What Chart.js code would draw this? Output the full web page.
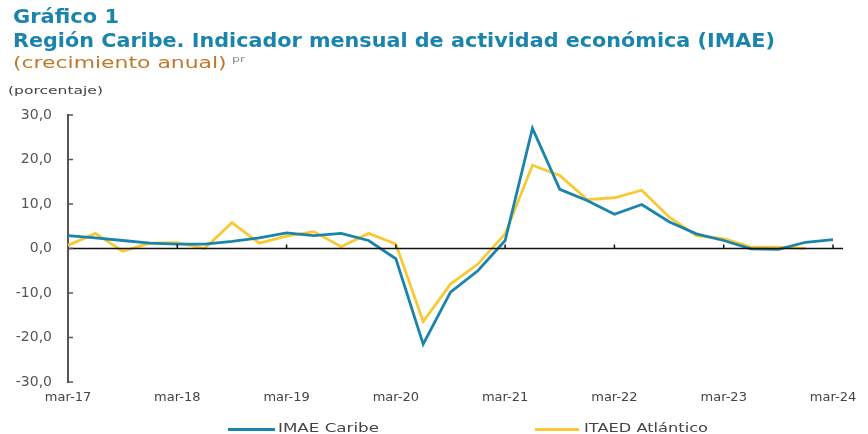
<!DOCTYPE html>
<html>
<head>
<meta charset="utf-8">
<script src="https://cdn.jsdelivr.net/npm/chart.js@4.4.0/dist/chart.umd.min.js"></script>
<style>
  body { margin: 0; background: #fff; }
  #wrap { position: relative; width: 868px; height: 434px; overflow: hidden; font-family: "DejaVu Sans", sans-serif; }
  #c { position: absolute; left: 0; top: 0; }
  .t { position: absolute; left: 13px; white-space: nowrap; transform-origin: left top; }
  #t1, #t2 { color: #1b84ad; font-weight: bold; font-size: 19px; }
  #t1 { top: 5px; }
  #t2 { top: 29px; }
  #t3 { top: 53px; color: #c0782c; font-size: 16px; }
  #t3 sup { color: #888; font-size: 9px; vertical-align: 6px; margin-left: 4px; }
  #t4 { top: 84px; left: 8px; color: #444; font-size: 11px; }
  .leg { position: absolute; top: 420px; font-size: 13px; color: #444; white-space: nowrap; }
  .leg span.sw { position: absolute; top: 8px; height: 3px; }
  .leg span.tx { position: absolute; top: 0; transform-origin: left top; }
</style>
</head>
<body>
<div id="wrap">
  <canvas id="c" width="868" height="434"></canvas>
  <div class="t" id="t1">Gráfico 1</div>
  <div class="t" id="t2">Región Caribe. Indicador mensual de actividad económica (IMAE)</div>
  <div class="t" id="t3">(crecimiento anual)<sup>pr</sup></div>
  <div class="t" id="t4">(porcentaje)</div>
  <div id="legend"></div>
</div>
<script>
var labels = ["mar-17","jun-17","sep-17","dic-17","mar-18","jun-18","sep-18","dic-18",
  "mar-19","jun-19","sep-19","dic-19","mar-20","jun-20","sep-20","dic-20",
  "mar-21","jun-21","sep-21","dic-21","mar-22","jun-22","sep-22","dic-22",
  "mar-23","jun-23","sep-23","dic-23","mar-24"];
var imaeCaribe = [2.9, 2.4, 1.8, 1.2, 1.0, 1.0, 1.6, 2.4,
  3.5, 2.9, 3.4, 1.8, -2.3, -21.5, -9.8, -5.0,
  1.8, 27.0, 13.3, 10.8, 7.7, 9.9, 6.0, 3.3,
  1.8, -0.1, -0.2, 1.4, 2.0];
var itaedAtlantico = [0.7, 3.4, -0.6, 1.2, 1.3, 0.0, 5.8, 1.2,
  2.8, 3.8, 0.4, 3.4, 1.0, -16.4, -8.0, -3.5,
  3.3, 18.7, 16.4, 11.0, 11.4, 13.1, 7.1, 2.9,
  2.2, 0.3, 0.3, 0.0];
var yTicks = [-30, -20, -10, 0, 10, 20, 30];

// stretch a text line to the width it has in the picture
function fit(el, w) {
  var r = el.getBoundingClientRect().width;
  el.style.transform = 'scaleX(' + (w / r) + ')';
}
fit(document.getElementById('t1'), 106);
fit(document.getElementById('t2'), 762);
fit(document.getElementById('t3'), 232);
fit(document.getElementById('t4'), 95);

var marks = {
  id: 'marks',
  afterDatasetsDraw: function (chart) {
    var ctx = chart.ctx, x = chart.scales.x, y = chart.scales.y;
    var a = chart.chartArea;
    ctx.save();
    // eje en cero
    var y0 = y.getPixelForValue(0);
    ctx.strokeStyle = '#111';
    ctx.lineWidth = 1.5;
    ctx.beginPath();
    ctx.moveTo(a.left, y0);
    ctx.lineTo(a.right + 10, y0);
    ctx.stroke();
    for (var i = 4; i < labels.length; i += 4) {
      var px = x.getPixelForValue(i);
      ctx.beginPath();
      ctx.moveTo(px, y0);
      ctx.lineTo(px, y0 - 4);
      ctx.stroke();
    }
    // marcas del eje y
    ctx.strokeStyle = '#555';
    ctx.lineWidth = 1.5;
    yTicks.forEach(function (v) {
      var py = y.getPixelForValue(v);
      ctx.beginPath();
      ctx.moveTo(a.left, py);
      ctx.lineTo(a.left + 5, py);
      ctx.stroke();
    });
    ctx.restore();
  }
};

var datasets = [
  { label: 'IMAE Caribe', data: imaeCaribe, borderColor: '#1b84ad', backgroundColor: '#1b84ad', borderWidth: 2.8 },
  { label: 'ITAED Atlántico', data: itaedAtlantico, borderColor: '#f8c935', backgroundColor: '#f8c935', borderWidth: 2.8 }
];

var chart = new Chart(document.getElementById('c'), {
  type: 'line',
  data: { labels: labels, datasets: datasets },
  options: {
    responsive: false,
    animation: false,
    layout: { padding: { left: 0, top: 115, right: 35, bottom: 0 } },
    elements: { point: { radius: 0 }, line: { tension: 0 } },
    plugins: { legend: { display: false }, tooltip: { enabled: false } },
    scales: {
      x: {
        offset: false,
        grid: { display: false, drawTicks: false },
        border: { display: false },
        afterFit: function (s) { s.height = 52; },
        ticks: {
          autoSkip: false, maxRotation: 0, padding: 8,
          color: '#444', font: { family: 'DejaVu Sans', size: 13 },
          callback: function (v, i) { return i % 4 === 0 ? labels[i] : ''; }
        }
      },
      y: {
        min: -30, max: 30,
        grid: { display: false, drawTicks: false },
        border: { display: true, color: '#555', width: 2 },
        afterFit: function (s) { s.width = 68; },
        afterBuildTicks: function (s) { s.ticks = yTicks.map(function (v) { return { value: v }; }); },
        ticks: {
          padding: 16, color: '#555', font: { family: 'DejaVu Sans', size: 14 },
          callback: function (v) { return v.toFixed(1).replace('.', ','); }
        }
      }
    }
  },
  plugins: [marks]
});

// leyenda
var legPos = [{ sw: 228, swW: 47, tx: 278, txW: 101 }, { sw: 535, swW: 44, tx: 584, txW: 124 }];
var leg = document.getElementById('legend');
datasets.forEach(function (d, i) {
  var p = legPos[i];
  var item = document.createElement('div');
  item.className = 'leg';
  item.style.left = '0px';
  var sw = document.createElement('span');
  sw.className = 'sw';
  sw.style.left = p.sw + 'px';
  sw.style.width = p.swW + 'px';
  sw.style.background = d.borderColor;
  var tx = document.createElement('span');
  tx.className = 'tx';
  tx.style.left = p.tx + 'px';
  tx.textContent = d.label;
  item.appendChild(sw);
  item.appendChild(tx);
  leg.appendChild(item);
  fit(tx, p.txW);
});
</script>
</body>
</html>
